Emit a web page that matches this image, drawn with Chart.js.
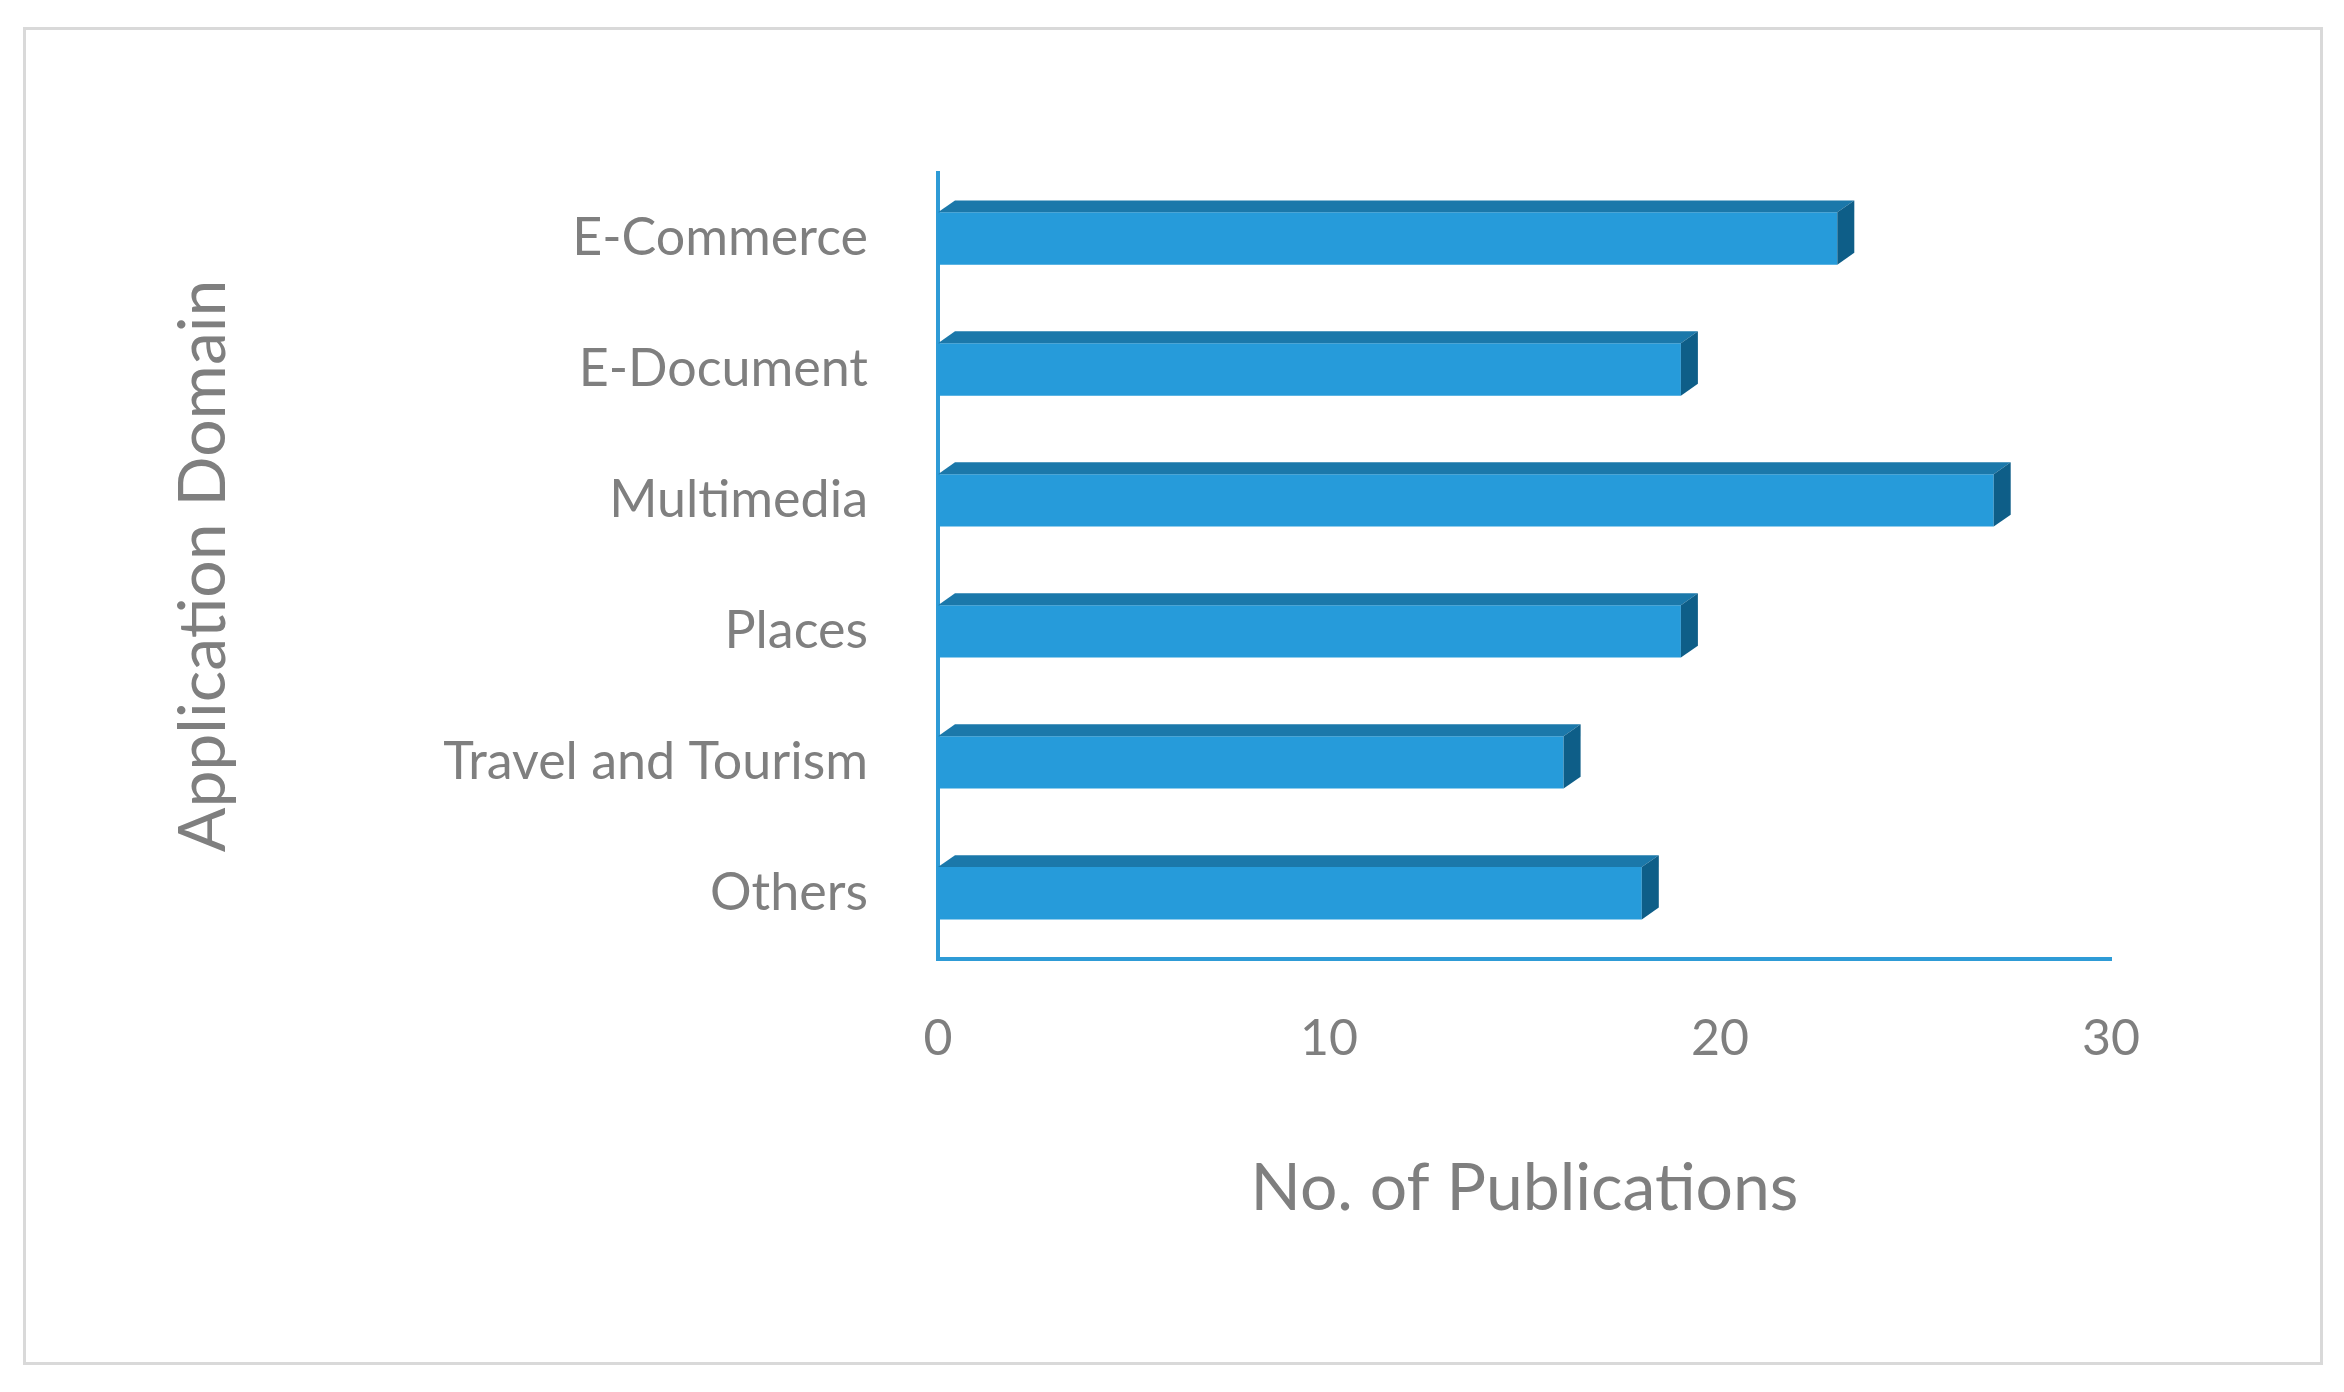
<!DOCTYPE html>
<html><head><meta charset="utf-8">
<script src="https://cdn.jsdelivr.net/npm/chart.js@4"></script>
<style>
html,body{margin:0;padding:0;background:#fff;}
#wrap{position:relative;width:2344px;height:1392px;}
#frame{position:absolute;left:23px;top:27px;width:2300px;height:1338px;border:3px solid #D9D9D9;box-sizing:border-box;}
canvas{position:absolute;left:0;top:0;}
</style></head>
<body><div id="wrap"><div id="frame"></div><canvas id="c" width="2344" height="1392"></canvas></div>
<script>
const categories = ["E-Commerce","E-Document","Multimedia","Places","Travel and Tourism","Others"];
const publications = [23,19,27,19,16,18];
const xTicks = [0,10,20,30];

const depth = 17;
const bar3d = {
  id:'bar3d',
  afterDatasetsDraw(chart){
    const ctx = chart.ctx;
    chart.getDatasetMeta(0).data.forEach(b=>{
      const x0 = b.base, x1 = b.x, yt = b.y - b.height/2, yb = b.y + b.height/2;
      ctx.save();
      ctx.fillStyle = '#1B78AA';
      ctx.beginPath();
      ctx.moveTo(x0,yt); ctx.lineTo(x0+depth,yt-depth*0.7); ctx.lineTo(x1+depth,yt-depth*0.7); ctx.lineTo(x1,yt); ctx.closePath(); ctx.fill();
      ctx.fillStyle = '#0E5E88';
      ctx.beginPath();
      ctx.moveTo(x1,yt); ctx.lineTo(x1+depth,yt-depth*0.7); ctx.lineTo(x1+depth,yb-depth*0.7); ctx.lineTo(x1,yb); ctx.closePath(); ctx.fill();
      ctx.restore();
    });
  }
};

new Chart(document.getElementById('c'),{
  type:'bar',
  data:{labels:categories,datasets:[{data:publications,backgroundColor:'#269BDA',barPercentage:0.4,categoryPercentage:1}]},
  options:{
    indexAxis:'y',responsive:false,animation:false,
    layout:{padding:{left:160,top:173,right:233,bottom:160}},
    plugins:{legend:{display:false},tooltip:{enabled:false}},
    scales:{
      x:{min:0,max:30,afterBuildTicks:s=>{s.ticks=xTicks.map(v=>({value:v}));},
        grid:{display:false,drawTicks:false},border:{color:'#2E9BD6',width:4},
        ticks:{color:'#7F7F7F',font:{family:'Lato',size:50},padding:50},
        title:{display:true,text:'No. of Publications',color:'#7F7F7F',font:{family:'Lato',size:66},padding:{top:30}}},
      y:{grid:{display:false,drawTicks:false},border:{color:'#2E9BD6',width:4},
        afterFit:s=>{s.width=938-160;},
        ticks:{color:'#7F7F7F',font:{family:'Lato',size:52},padding:70},
        title:{display:true,text:'Application Domain',color:'#7F7F7F',font:{family:'Lato',size:66},padding:{bottom:0}}}
    }
  },
  plugins:[bar3d]
});
</script></body></html>
